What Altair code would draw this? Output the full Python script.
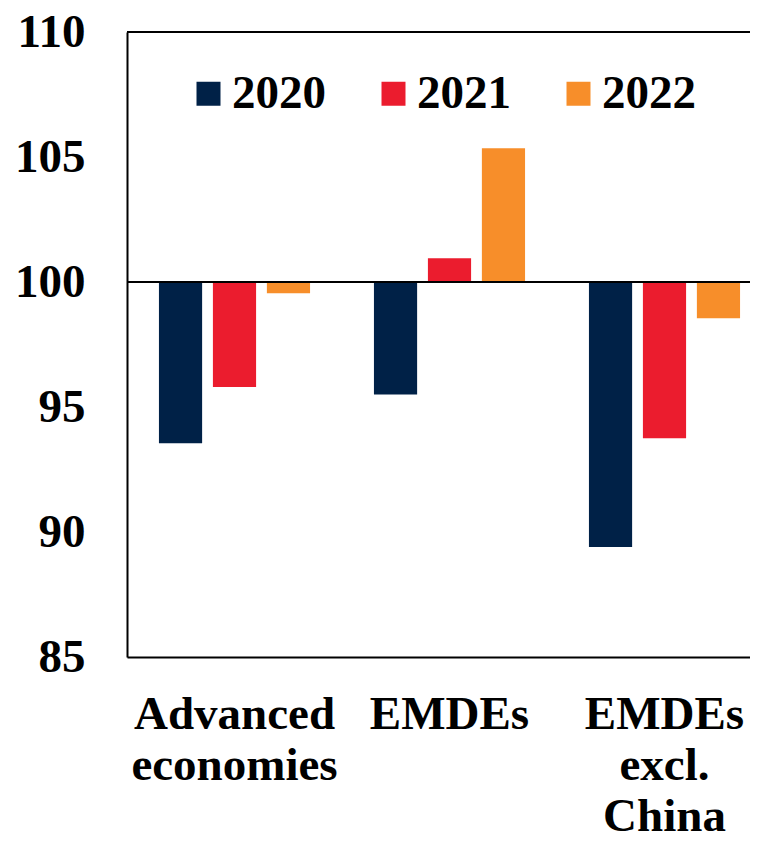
import altair as alt
import pandas as pd

categories = ["Advanced economies", "EMDEs", "EMDEs excl. China"]
years = ["2020", "2021", "2022"]
values_2020 = [93.55, 95.5, 89.4]
values_2021 = [95.8, 100.95, 93.75]
values_2022 = [99.55, 105.35, 98.55]
baseline = 100
y_ticks = [85, 90, 95, 100, 105, 110]
colors = ["#002147", "#EB1C2E", "#F78E2A"]

rows = []
for yr, vals in zip(years, [values_2020, values_2021, values_2022]):
    for c, v in zip(categories, vals):
        rows.append({"category": c, "year": yr, "value": v, "base": baseline})
df = pd.DataFrame(rows)
refs = pd.DataFrame({"y": [baseline, max(y_ticks)]})

FONT = "Liberation Serif"

yscale = alt.Scale(domain=[min(y_ticks), max(y_ticks)], nice=False, zero=False)

bars = alt.Chart(df).mark_bar().encode(
    x=alt.X("category:N", sort=categories,
            scale=alt.Scale(range=[0, 645], paddingInner=0.247, paddingOuter=0.1235),
            axis=alt.Axis(title=None, labelAngle=0, ticks=False, domain=True,
                          domainColor="black", domainWidth=2,
                          labelFont=FONT, labelFontWeight="bold", labelFontSize=47,
                          labelColor="black", labelPadding=34, labelLineHeight=51,
                          labelLimit=0,
                          labelExpr="split(datum.label, ' ')")),
    xOffset=alt.XOffset("year:N", sort=years,
                        scale=alt.Scale(paddingInner=0.2, paddingOuter=0.1)),
    y=alt.Y("value:Q", scale=yscale,
            axis=alt.Axis(title=None, values=y_ticks, ticks=False, grid=False,
                          domain=True, domainColor="black", domainWidth=2,
                          labelFont=FONT, labelFontWeight="bold", labelFontSize=47,
                          labelColor="black", labelPadding=42)),
    y2="base:Q",
    color=alt.Color("year:N", sort=years,
                    scale=alt.Scale(domain=years, range=colors),
                    legend=alt.Legend(title=None, orient="none", direction="horizontal",
                                      legendX=58, legendY=38,
                                      symbolType="square", symbolSize=576,
                                      symbolStrokeWidth=0, symbolOpacity=1,
                                      labelFont=FONT, labelFontWeight="bold",
                                      labelFontSize=47, labelColor="black",
                                      labelOffset=0, columnPadding=44, labelLimit=0)),
)

rules = alt.Chart(refs).mark_rule(color="black", strokeWidth=2).encode(
    y=alt.Y("y:Q", scale=yscale),
)

chart = alt.layer(bars, rules).properties(
    width=623, height=625,
    autosize=alt.AutoSizeParams(type="none"),
    padding={"left": 119, "top": 24, "right": 0, "bottom": 178},
).configure_view(stroke=None).configure(background="white")

chart.save("out.html", embed_options={"renderer": "svg", "actions": False})
